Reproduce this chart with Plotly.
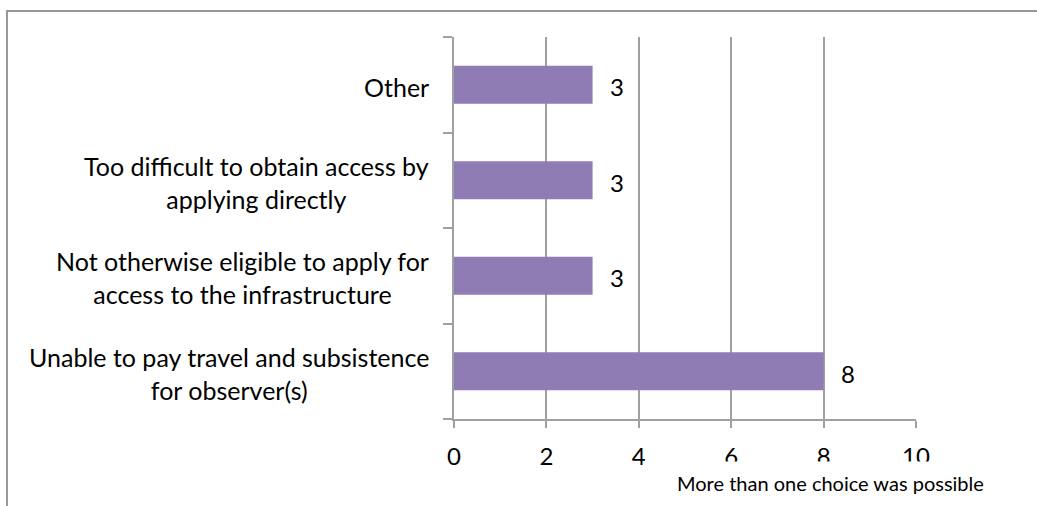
import plotly.graph_objects as go

# Data (bottom to top, as in the original chart)
categories = [
    "Unable to pay travel and subsistence<br>for observer(s)",
    "Not otherwise eligible to apply for<br>access to the infrastructure",
    "Too difficult to obtain access by<br>applying directly",
    "Other",
]
values = [8, 3, 3, 3]
x_ticks = [0, 2, 4, 6, 8, 10]
note = "More than one choice was possible"

FONT = "Lato"
BAR_COLOR = "#8F7CB4"
GRID = "#A0A0A0"

W, H = 1037, 506
ML, MR, MT, MB = 454, 121, 37, 87
PW = W - ML - MR
PH = H - MT - MB

fig = go.Figure()
fig.add_trace(go.Bar(
    x=values, y=categories, orientation="h",
    marker=dict(color=BAR_COLOR, line=dict(width=0)),
    hoverinfo="x+y",
))

annotations = []
# category labels (centred multi-line blocks, right aligned to the axis)
for c in categories:
    annotations.append(dict(
        x=0, xref="paper", y=c, yref="y", text=c, showarrow=False,
        xanchor="right", yanchor="middle", align="center", xshift=-23,
        yshift=-2,
        font=dict(family=FONT, size=25, color="#000"),
    ))
# value labels
for c, v in zip(categories, values):
    annotations.append(dict(
        x=v, xref="x", y=c, yref="y", text=str(v), showarrow=False,
        xanchor="left", yanchor="middle", xshift=15, yshift=-2,
        font=dict(family=FONT, size=24, color="#000"),
    ))
# note with white box
annotations.append(dict(
    x=(830 - ML) / PW, xref="paper", y=(H - MB - 483) / PH, yref="paper",
    text=note, showarrow=False, xanchor="center", yanchor="middle",
    bgcolor="white", borderpad=9,
    font=dict(family=FONT, size=20, color="#000"),
))

shapes = [
    dict(type="line", xref="paper", yref="paper",
         x0=(7 - ML) / PW, x1=(7 - ML) / PW, y0=(H - MB - H) / PH, y1=(H - MB - 11) / PH,
         line=dict(color="#999999", width=2)),
    dict(type="line", xref="paper", yref="paper",
         x0=(6 - ML) / PW, x1=(W - ML) / PW, y0=(H - MB - 11) / PH, y1=(H - MB - 11) / PH,
         line=dict(color="#999999", width=2)),
]

fig.update_layout(
    width=W, height=H,
    margin=dict(l=ML, r=MR, t=MT, b=MB, pad=0),
    paper_bgcolor="white", plot_bgcolor="white",
    showlegend=False, bargap=0.6,
    annotations=annotations, shapes=shapes,
    font=dict(family=FONT, size=22, color="#000"),
    xaxis=dict(
        range=[0, 10], tickvals=x_ticks, showgrid=True, gridcolor=GRID, gridwidth=2,
        showline=True, linecolor=GRID, linewidth=2, zeroline=False,
        ticks="outside", ticklen=7, tickwidth=2, tickcolor=GRID,
        ticklabelstandoff=8,
        tickfont=dict(family=FONT, size=24, color="#000"), fixedrange=True,
    ),
    yaxis=dict(
        type="category", categoryorder="array", categoryarray=categories,
        range=[-0.5, 3.5], tickson="boundaries", showticklabels=False,
        showgrid=False, showline=True, linecolor=GRID, linewidth=2, zeroline=False,
        ticks="outside", ticklen=9, tickwidth=2, tickcolor=GRID, fixedrange=True,
    ),
)

fig.write_html("out.html")
